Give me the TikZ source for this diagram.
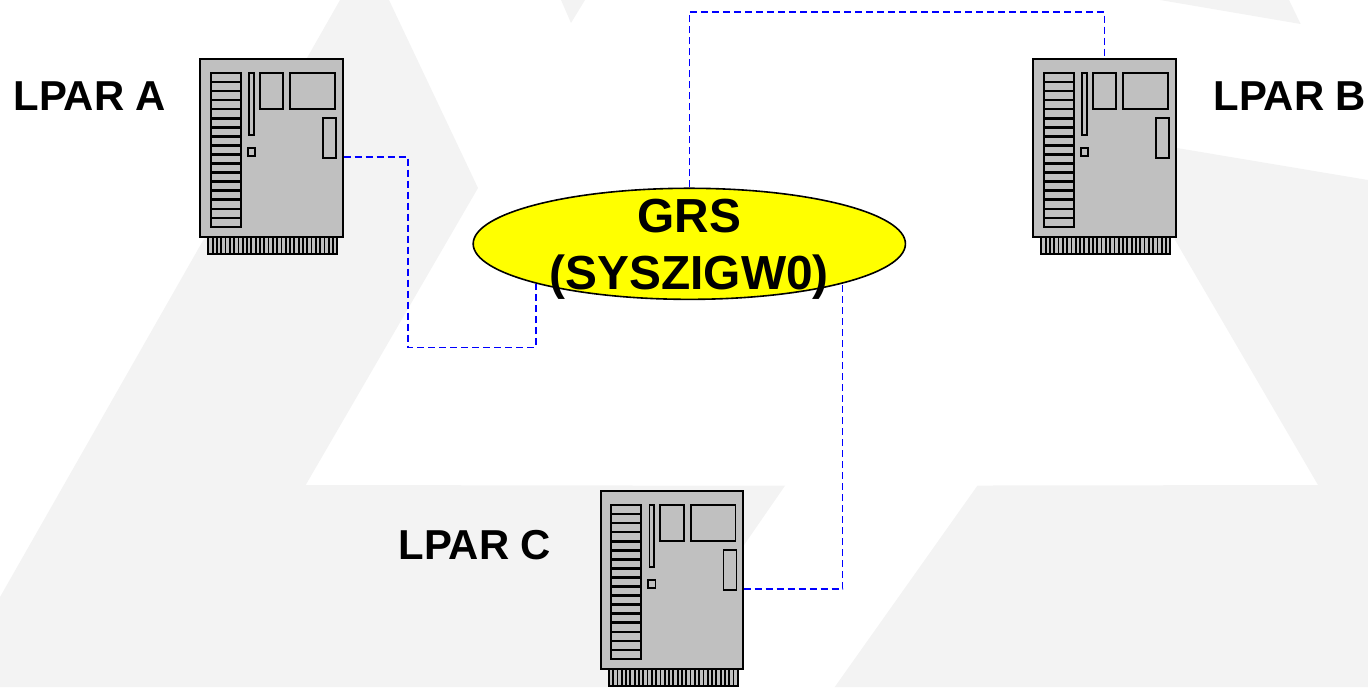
\documentclass[tikz,border=0pt]{standalone}
\usepackage{fontspec}
\setmainfont{Liberation Sans}
\usepackage{tikz}
\usetikzlibrary{shapes.geometric}
\usepackage{xcolor}
\definecolor{backdrop}{HTML}{F3F3F3}
\definecolor{casegrey}{HTML}{C0C0C0}
\definecolor{grsyellow}{HTML}{FFFF00}
\definecolor{linkblue}{HTML}{0000FF}

\tikzset{
  part/.style={draw=black, fill=casegrey, line width=0.018cm},
  server/.style={rectangle, part, line width=0.02cm, minimum width=1.42cm, minimum height=1.77cm, inner sep=0pt},
  lpar/.style={font=\bfseries\fontsize{11.9}{14}\selectfont, inner sep=0pt, anchor=base west},
  link/.style={draw=linkblue, line width=0.015cm, dash pattern=on 0.07cm off 0.04cm}
}

\begin{document}
\begin{tikzpicture}[x=0.01cm, y=-0.01cm]
      \useasboundingbox (0,0) rectangle (1368,687);

      % Background
      \fill[backdrop] (340,0) -- (389,0) -- (478,188) -- (305.7,485) -- (785,485.7) -- (646,687) -- (0,687) -- (0,597) -- cycle;
      \fill[backdrop] (1368,180) -- (1177,148) -- (1175,240) -- (1318,485) -- (977.5,485.5) -- (834.7,687) -- (1368,687) -- cycle;
      \fill[backdrop] (1160,0) -- (1300.6,24) -- (1289,0) -- cycle;
      \fill[backdrop] (561,0) -- (571,23) -- (585,0) -- cycle;

      % Servers
      \foreach \name/\posx/\posy in {lparA/200/59, lparB/1033/59, lparC/600.5/491} {
        \begin{scope}[shift={(\posx,\posy)}]
          % Edge connector
          \draw[part] (8.3,178) rectangle (137.3,195);
          \foreach \i in {0,...,30}
            \draw[line width=0.018cm] ({8.3+\i*4.3},178) -- ({8.3+\i*4.3},195);

          \node[server] (\name) at (71.5,89) {};

          % Slots
          \draw[part] (10.7,14.3) rectangle (40.7,167.7);
          \foreach \j in {1,...,16}
            \draw[line width=0.022cm] (10.7,{14.3+\j*9.02}) -- (40.7,{14.3+\j*9.02});

          % Small parts
          \draw[part] (49,14.3) rectangle (53.7,76);
          \draw[part] (59.7,14.3) rectangle (83.3,50);
          \draw[part] (90.3,14.3) rectangle (135,50);
          \draw[part] (123,58.7) rectangle (136,99);
          \draw[part] (47.7,89.3) rectangle (55,97.3);
        \end{scope}
      }

      % Labels
      \node[lpar] (nameA) at (12.8,110.7) {LPAR A};
      \node[lpar] (nameB) at (1212.8,110.7) {LPAR B};
      \node[lpar] (nameC) at (397.8,559.5) {LPAR C};

      % Ellipse
      \node[ellipse, draw=black, fill=grsyellow, line width=0.016cm, minimum width=4.32cm, minimum height=1.11cm, inner sep=0pt] (grs) at (689.3,243.8) {};
      \begin{scope}
        \clip (0,0) rectangle (1368,301);
        \node[font=\bfseries\fontsize{13.6}{16.2}\selectfont, align=center, inner sep=0pt] (grstext) at (689.3,249) {GRS\\(SYSZIGW0)};
      \end{scope}

      % Connections
      \coordinate (portA) at (343.5,157);
      \coordinate (portC) at (743.5,589);
      \coordinate (bendA) at (408,347.5);
      \coordinate (bendB) at (900,12);
      \draw[link] (portA) -| (bendA) -| (grs.south west);
      \draw[link] (grs.north) |- (bendB) -| (lparB.north);
      \draw[link] (portC) -| (grs.south east);
\end{tikzpicture}
\end{document}
